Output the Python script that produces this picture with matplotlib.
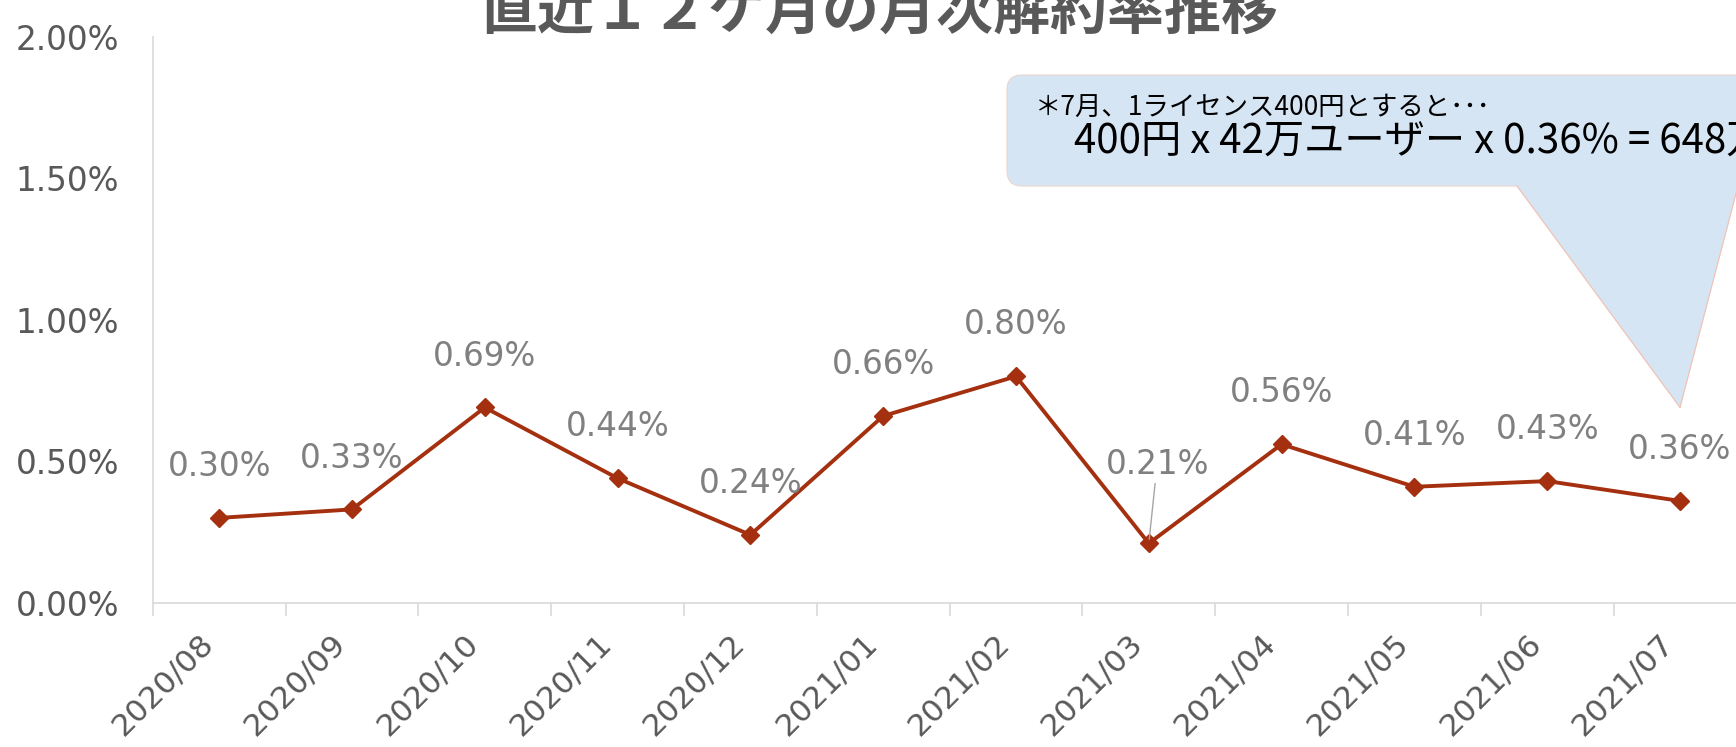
import numpy as np
import matplotlib
matplotlib.use('Agg')
import matplotlib.pyplot as plt
from matplotlib.ticker import PercentFormatter
from matplotlib.patches import FancyBboxPatch, Polygon
from matplotlib.lines import Line2D

plt.rcParams['font.family'] = ['DejaVu Sans', 'Noto Sans CJK JP']

# データ
months = ['2020/08', '2020/09', '2020/10', '2020/11', '2020/12', '2021/01',
          '2021/02', '2021/03', '2021/04', '2021/05', '2021/06', '2021/07']
rates = [0.30, 0.33, 0.69, 0.44, 0.24, 0.66, 0.80, 0.21, 0.56, 0.41, 0.43, 0.36]
title = '直近１２ケ月の月次解約率推移'
note1 = '＊7月、1ライセンス400円とすると･･･'
note2 = '400円 x 42万ユーザー x 0.36% = 648万円'
callout_tip = (11, 0.69)

gray = '#595959'
red = '#A5300F'
cjk = ['Noto Sans CJK JP', 'DejaVu Sans']

fig = plt.figure(figsize=(17.36, 7.47), dpi=100)
ax = fig.add_axes([0.088, 0.193, 0.918, 0.758])

x = np.arange(len(months))
ax.plot(x, rates, color=red, lw=2.8, marker='D', ms=9, zorder=3)

ax.set_xlim(-0.5, 11.5)
ax.set_ylim(0, 2)
ax.set_yticks([0, 0.5, 1.0, 1.5, 2.0])
ax.yaxis.set_major_formatter(PercentFormatter(xmax=100, decimals=2))
ax.tick_params(axis='y', length=0, pad=24, labelsize=23.5, labelcolor=gray)

ax.set_xticks(x)
ax.set_xticklabels(months, rotation=45, ha='right', va='top')
ax.tick_params(axis='x', which='major', length=0, pad=19, labelsize=22.5, labelcolor=gray)
ax.set_xticks(np.arange(-0.5, len(months), 1), minor=True)
ax.tick_params(axis='x', which='minor', length=9, width=1.2, color='#D9D9D9')

for s in ['top', 'right']:
    ax.spines[s].set_visible(False)
for s in ['left', 'bottom']:
    ax.spines[s].set_color('#D9D9D9')
    ax.spines[s].set_linewidth(1.2)

# データラベル
for i, v in enumerate(rates):
    if i == 7:
        ax.annotate(f'{v:.2f}%', (i, v), xytext=(6, 57), textcoords='offset points',
                    ha='center', va='center', fontsize=23.5, color='#808080',
                    arrowprops=dict(arrowstyle='-', color='#A6A6A6', lw=1,
                                    shrinkA=0, shrinkB=3))
    else:
        ax.annotate(f'{v:.2f}%', (i, v), xytext=(0, 37), textcoords='offset points',
                    ha='center', va='center', fontsize=23.5, color='#808080')

# タイトル
fig.text(880 / 1736, 1 - 30 / 747, title, ha='center', va='baseline',
         fontsize=41, fontweight='bold', color=gray, family=cjk)

# 吹き出し
fill = '#D6E5F4'
H = 7.47
box = FancyBboxPatch((10.07, H - 1.86), 8.0, 1.11,
                     boxstyle='round,pad=0,rounding_size=0.15',
                     transform=fig.dpi_scale_trans, facecolor=fill,
                     edgecolor='#EBD5CE', lw=0.8, zorder=1)
fig.add_artist(box)
fig.canvas.draw()
tx, ty = ax.transData.transform(callout_tip) / fig.dpi
base_l = (15.17, H - 1.86)
base_r = (17.38, H - 1.86)
tri = Polygon([(base_l[0], base_l[1] + 0.05), base_l, (tx, ty), base_r,
               (base_r[0], base_r[1] + 0.05)],
              closed=True, transform=fig.dpi_scale_trans, facecolor=fill,
              edgecolor='none', zorder=2)
fig.add_artist(tri)
for bx, by in [base_l, base_r]:
    fig.add_artist(Line2D([bx, tx], [by, ty], transform=fig.dpi_scale_trans,
                          color='#EFC3B5', lw=0.9, zorder=2))

fig.text(1035 / 1736, 1 - 107 / 747, note1, ha='left', va='center',
         fontsize=19, color='black', family=cjk, zorder=3)
fig.text(1074 / 1736, 1 - 142 / 747, note2, ha='left', va='center',
         fontsize=29, color='black', family=cjk, zorder=3)

fig.savefig('out.png', dpi=100)
